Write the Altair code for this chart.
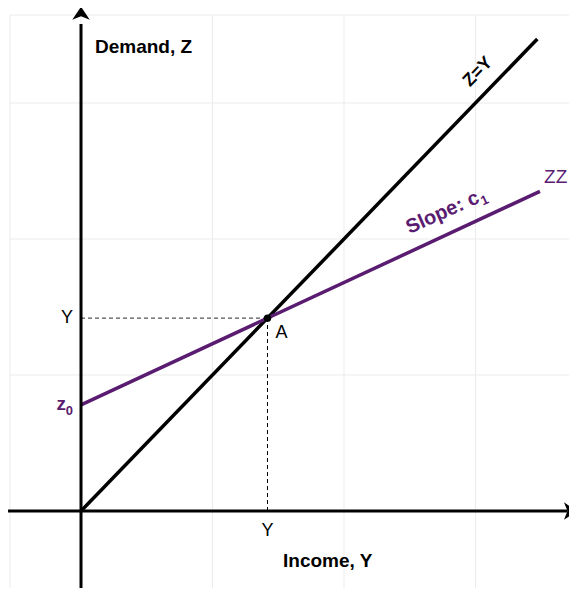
import altair as alt
import pandas as pd

# ---- data (in chart units: one grid cell = 1) ----
z0 = 0.78                 # autonomous spending (intercept of ZZ)
c1 = 0.45                 # slope of ZZ
zy_income = [0.0, 3.47]   # extent of the 45-degree line Z=Y
zz_income = [0.0, 3.49]   # extent of the ZZ line
grid_vals = [0, 1, 2, 3]
Y_eq = z0 / (1 - c1)      # equilibrium (point A)

PURPLE = "#5a1c70"
FONT = "Liberation Sans"
ARROW = "M1,0 L-1,-1.35 L-0.45,0 L-1,1.35 Z"

X_DOM = [-0.54, 3.711]
Y_DOM = [-0.566, 3.647]
xs = alt.Scale(domain=X_DOM, nice=False, zero=False)
ys = alt.Scale(domain=Y_DOM, nice=False, zero=False)


def X(f="x"):
    return alt.X(f, type="quantitative", scale=xs, axis=None)


def Y(f="y"):
    return alt.Y(f, type="quantitative", scale=ys, axis=None)


GRID = "#ebebeb"
grid_df = pd.DataFrame({"v": grid_vals})
vgrid = alt.Chart(grid_df).mark_rule(color=GRID, strokeWidth=1).encode(x=X("v"))
hgrid = alt.Chart(grid_df).mark_rule(color=GRID, strokeWidth=1).encode(y=Y("v"))
vborder = alt.Chart(pd.DataFrame({"v": [X_DOM[0]]})).mark_rule(color=GRID, strokeWidth=1).encode(x=X("v"))
hborder = alt.Chart(pd.DataFrame({"v": [Y_DOM[1]]})).mark_rule(color=GRID, strokeWidth=1).encode(y=Y("v"))

# axes
xaxis = alt.Chart(pd.DataFrame({"x": [-0.555], "x2": [3.70], "y": [0]})).mark_rule(
    color="black", strokeWidth=3).encode(x=X(), x2="x2", y=Y())
yaxis = alt.Chart(pd.DataFrame({"y": [-0.63], "y2": [3.58], "x": [0]})).mark_rule(
    color="black", strokeWidth=3).encode(y=Y(), y2="y2", x=X())
xarrow = alt.Chart(pd.DataFrame({"x": [3.722], "y": [0]})).mark_point(
    shape=ARROW, size=169, filled=True, color="black", opacity=1, angle=0).encode(x=X(), y=Y())
yarrow = alt.Chart(pd.DataFrame({"x": [0], "y": [3.66]})).mark_point(
    shape=ARROW, size=169, filled=True, color="black", opacity=1, angle=270).encode(x=X(), y=Y())

# dashed guides
hdash = alt.Chart(pd.DataFrame({"x": [0], "x2": [Y_eq], "y": [Y_eq]})).mark_rule(
    color="#555555", strokeWidth=1.2, strokeDash=[4, 3]).encode(x=X(), x2="x2", y=Y())
vdash = alt.Chart(pd.DataFrame({"y": [0], "y2": [Y_eq], "x": [Y_eq]})).mark_rule(
    color="black", strokeWidth=1, strokeDash=[4, 3]).encode(y=Y(), y2="y2", x=X())

# lines
zy_df = pd.DataFrame({"x": zy_income, "y": zy_income})
zz_df = pd.DataFrame({"x": zz_income, "y": [z0 + c1 * v for v in zz_income]})
zy_line = alt.Chart(zy_df).mark_line(color="black", strokeWidth=3.5).encode(x=X(), y=Y())
zz_line = alt.Chart(zz_df).mark_line(color=PURPLE, strokeWidth=3.5).encode(x=X(), y=Y())

pointA = alt.Chart(pd.DataFrame({"x": [Y_eq], "y": [Y_eq]})).mark_point(
    shape="circle", size=55, filled=True, color="black", opacity=1).encode(x=X(), y=Y())


def label(text, x, y, color="black", bold=False, align="left", angle=0, dx=0, dy=0, size=18):
    kw = dict(text=text, color=color, font=FONT, fontSize=size,
              fontWeight="bold" if bold else "normal", align=align,
              baseline="middle", dx=dx, dy=dy)
    if angle:
        kw["angle"] = angle
    return alt.Chart(pd.DataFrame({"x": [x], "y": [y]})).mark_text(**kw).encode(x=X(), y=Y())


labels = [
    label("Demand, Z", 0.106, 3.41, bold=True, size=19),
    label("Income, Y", 1.536, -0.37, bold=True, size=19),
    label("Y", Y_eq, 0, align="center", dy=20),
    label("Y", 0, Y_eq, align="right", dx=-8),
    label("A", Y_eq, Y_eq, align="left", dx=8, dy=15),
    label("z", 0, z0, color=PURPLE, bold=True, align="right", dx=-15, dy=-1, size=19),
    label("0", 0, z0, color=PURPLE, bold=True, align="right", dx=-8, dy=6, size=13),
    label("ZZ", 3.61, 2.456, color=PURPLE, align="center", size=19),
    label("Z=Y", 3.019, 3.228, bold=True, align="center", angle=314, size=18),
    label("Slope: c", 3.02, 2.31, color=PURPLE, bold=True, align="right", angle=336, size=20),
    label("1", 3.02, 2.31, color=PURPLE, bold=True, align="left", angle=336, dx=1, dy=6, size=13),
]

chart = alt.layer(
    vgrid, hgrid, vborder, hborder, hdash, vdash, zy_line, zz_line,
    xaxis, yaxis, xarrow, yarrow, pointA, *labels
).properties(
    width=559, height=573,
    padding={"left": 2, "top": 7, "right": 0, "bottom": 0},
    autosize=alt.AutoSizeParams(type="none"),
).configure_view(stroke=None, clip=False)

chart.save("out.html", embed_options={"renderer": "svg", "actions": False})
